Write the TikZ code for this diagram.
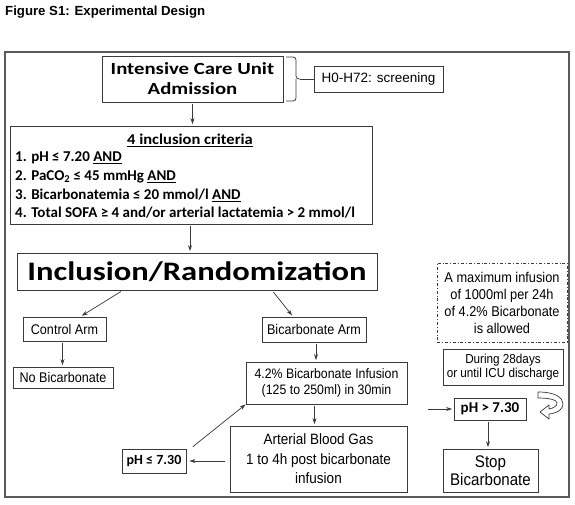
\documentclass[tikz,border=0pt]{standalone}
\usepackage{fontspec}
\setmainfont{Liberation Sans}
\newfontfamily\calfont{Carlito}
\newfontfamily\calwide[FakeStretch=1.22]{Carlito}
\newfontfamily\calmid[FakeStretch=1.1]{Carlito}
\newfontfamily\narr[FakeStretch=0.9]{Liberation Sans}
\usetikzlibrary{arrows.meta,calc}
\definecolor{boxline}{HTML}{3A3A3A}
\definecolor{frameline}{HTML}{5A5A5A}
\begin{document}
\begin{tikzpicture}[x=1pt,y=-1pt,
  box/.style={draw=boxline,line width=0.9pt,inner sep=0pt,align=center},
  narrowtxt/.style={font=\narr\fontsize{14}{16}\selectfont},
  calbold/.style={font=\calfont\bfseries\fontsize{14}{18}\selectfont},
  crittxt/.style={font=\calfont\bfseries\fontsize{15}{16}\selectfont,anchor=west,inner sep=0pt},
  arr/.style={draw=boxline,line width=0.7pt,-{Stealth[length=6pt,width=4pt]},shorten >=1.5pt,shorten <=2pt},
  plain/.style={draw=boxline,line width=0.8pt}]
\useasboundingbox (0,0) rectangle (575,504);
\fill[white] (0,0) rectangle (575,504);
% title
\node[anchor=west,inner sep=0pt,font=\bfseries\fontsize{13.2}{15}\selectfont] (title) at (5,12) {Figure S1: Experimental Design};
% frame
\node[draw=frameline,line width=1.4pt,minimum width=564pt,minimum height=445pt,inner sep=0pt] (frame) at (287,274.5) {};
% ICU
\node[box,minimum width=181pt,minimum height=46pt,font=\calwide\bfseries\fontsize{17}{20}\selectfont] (icu) at (192.5,79) {Intensive Care Unit\\Admission};
\node[box,minimum width=129pt,minimum height=26pt,font=\fontsize{13.5}{15}\selectfont] (h0) at (378.5,79) {H0-H72: screening};
\coordinate (bt) at (300,79);
\draw[plain,rounded corners=3pt] (286,57) -- (296,57) -- (296,79) -- (bt);
\draw[plain,rounded corners=3pt] (286,101) -- (296,101) -- (296,79);
\draw[plain] (bt) -- (h0.west);
% criteria
\node[box,minimum width=362pt,minimum height=98pt] (crit) at (191,175) {};
\node[font=\calmid\bfseries\fontsize{15}{16}\selectfont,inner sep=0pt] (ctitle) at (190,140) {\underline{4 inclusion criteria}};
\node[crittxt] (c1) at (15,158) {1. pH ≤ 7.20 \underline{AND}};
\node[crittxt] (c2) at (15,177) {2. PaCO\textsubscript{2} ≤ 45 mmHg \underline{AND}};
\node[crittxt] (c3) at (15,195.5) {3. Bicarbonatemia ≤ 20 mmol/l \underline{AND}};
\node[crittxt] (c4) at (15,213) {4. Total SOFA ≥ 4 and/or arterial lactatemia > 2 mmol/l};
% inclusion
\node[box,minimum width=360pt,minimum height=37pt,font=\calwide\bfseries\fontsize{26.7}{28}\selectfont] (incl) at (197,271.5) {Inclusion/Randomization};
% arms
\node[box,narrowtxt,minimum width=83pt,minimum height=24pt] (control) at (64.5,329) {Control Arm};
\node[box,narrowtxt,minimum width=104pt,minimum height=25pt] (bicarm) at (314,329.5) {Bicarbonate Arm};
\node[box,narrowtxt,minimum width=100pt,minimum height=21pt] (nobic) at (63,377.5) {No Bicarbonate};
\node[box,font=\narr\fontsize{13.7}{16}\selectfont,minimum width=161pt,minimum height=42pt] (inf) at (326.5,383) {4.2\% Bicarbonate Infusion\\(125 to 250ml) in 30min};
\node[box,font=\narr\fontsize{15}{19.5}\selectfont,minimum width=177pt,minimum height=66pt] (abg) at (318.5,459) {Arterial Blood Gas\\1 to 4h post bicarbonate\\infusion};
\node[box,calbold,minimum width=64pt,minimum height=24pt] (phle) at (154,461) {pH ≤ 7.30};
% right column
\node[draw=boxline,line width=0.8pt,dash dot,inner sep=0pt,align=center,minimum width=130pt,minimum height=79pt,font=\narr\fontsize{14.2}{17}\selectfont] (maxinf) at (502,302.5) {A maximum infusion\\of 1000ml per 24h\\of 4.2\% Bicarbonate\\is allowed};
\node[box,font=\narr\fontsize{13}{13.5}\selectfont,minimum width=120pt,minimum height=36pt] (during) at (503,367) {During 28days\\or until ICU discharge};
\node[box,font=\calfont\bfseries\fontsize{15}{18}\selectfont,minimum width=72pt,minimum height=22pt] (phgt) at (490,409) {pH > 7.30};
\node[box,font=\narr\fontsize{16.8}{17.5}\selectfont,minimum width=95pt,minimum height=43pt] (stop) at (490.5,470.5) {Stop\\Bicarbonate};
\coordinate (phin) at (428,409);
% arrows
\draw[arr] (icu.south) -- (icu.south |- crit.north);
\draw[arr] ($(crit.south)+(-1,0)$) -- ($(crit.south |- incl.north)+(-1,0)$);
\draw[arr] ($(incl.south west)!0.294!(incl.south east)$) -- ($(control.north)+(16,0)$);
\draw[arr] ($(incl.south west)!0.708!(incl.south east)$) -- ($(bicarm.north)+(-21,0)$);
\draw[arr] ($(control.south)+(-2,0)$) -- ($(control.south |- nobic.north)+(-2,0)$);
\draw[arr] ($(bicarm.south)+(2,0)$) -- ($(bicarm.south |- inf.north)+(2,0)$);
\draw[arr] ($(inf.south)+(-12,0)$) -- ($(inf.south |- abg.north)+(-12,0)$);
\draw[arr,shorten <=5pt,shorten >=3pt] (abg.west |- phle.east) -- (phle.east);
\draw[arr,shorten <=3pt,shorten >=0pt] ($(phle.north east)+(4,0)$) -- (inf.south west);
\draw[arr,shorten <=0pt] (phin) -- (phgt.west);
\draw[arr] ($(phgt.south)+(-2,0)$) -- ($(phgt.south |- stop.north)+(-2,0)$);
% curved arrow
\draw[plain,line width=0.7pt,line join=round] (538,392) .. controls (556,392) and (563,398) .. (563,404) .. controls (563,409) and (558,413) .. (549,414) -- (549,419) -- (540,412) -- (549,405) -- (549,409) .. controls (554,408) and (557,406) .. (557,403) .. controls (557,400) and (550,398) .. (538,398) -- cycle;
\end{tikzpicture}
\end{document}
